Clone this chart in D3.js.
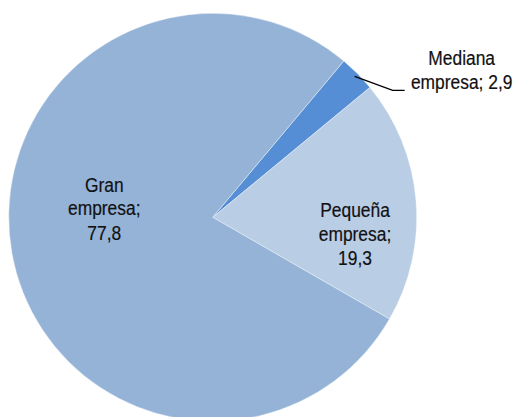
<!DOCTYPE html>
<html><head><meta charset="utf-8">
<script src="https://cdn.jsdelivr.net/npm/d3@7"></script>
<style>html,body{margin:0;padding:0;background:#fff;overflow:hidden}</style>
</head><body>
<svg id="chart" width="516" height="417"></svg>
<script>
// Data
const categories = ["Mediana empresa", "Pequeña empresa", "Gran empresa"];
const values = [2.9, 19.3, 77.8];
const valueLabels = ["2,9", "19,3", "77,8"];
const colors = ["#558ED5", "#B9CDE5", "#95B3D7"];

const svg = d3.select("#chart");
const cx = 212.7, cy = 217.3, R = 204;
const g = svg.append("g").attr("transform", `translate(${cx},${cy})`);

const start = 40 * Math.PI / 180;
const pie = d3.pie().sort(null).value(d => d.v).startAngle(start).endAngle(start + 2 * Math.PI);
const data = categories.map((c, i) => ({c, v: values[i], lab: valueLabels[i], col: colors[i]}));
const arcs = pie(data);
const arc = d3.arc().innerRadius(0).outerRadius(R);

g.selectAll("path.slice").data(arcs).join("path")
  .attr("class", "slice")
  .attr("d", arc)
  .attr("fill", d => d.data.col)
  .attr("stroke", "#ffffff").attr("stroke-opacity", 0.5).attr("stroke-width", 0.8);

const font = "'Liberation Sans', Arial, sans-serif";
const fs = 20, lh = 24, sx = 0.87;

function drawLabel(lines, x, yTopBaseline) {
  const t = svg.append("g").attr("transform", `translate(${x},${yTopBaseline}) scale(${sx},1)`);
  lines.forEach((l, i) => {
    t.append("text").attr("x", 0).attr("y", i * lh)
      .attr("text-anchor", "middle")
      .attr("font-family", font).attr("font-size", fs).attr("fill", "#111")
      .attr("stroke", "#111").attr("stroke-width", 0.2)
      .text(l);
  });
}

// Labels: centroid-based with placement nudges
const labelArc = d3.arc().innerRadius(0).outerRadius(R);
arcs.forEach((a, i) => {
  const words = a.data.c.split(" ");
  if (i === 0) {
    // Mediana: outside label with leader line
    const mid = (a.startAngle + a.endAngle) / 2;
    const p0 = [cx + Math.sin(mid) * (R - 4), cy - Math.cos(mid) * (R - 4)];
    const p1 = [p0[0] + 38, p0[1] + 14];
    const p2 = [p1[0] + 12, p1[1]];
    svg.append("polyline")
      .attr("points", [p0, p1, p2].map(p => p.join(",")).join(" "))
      .attr("fill", "none").attr("stroke", "#000").attr("stroke-width", 1.4);
    drawLabel([words[0], words[1] + "; " + a.data.lab], p2[0] + 57, p1[1] - 25);
  } else if (i === 1) {
    const c = labelArc.centroid(a);
    const k = 1.40;
    drawLabel([words[0], words[1] + ";", a.data.lab], cx + c[0] * k, cy + c[1] * k + 12);
  } else {
    const c = labelArc.centroid(a);
    drawLabel([words[0], words[1] + ";", a.data.lab], cx + c[0] * 1.08, cy + c[1] * 1.08 - 45);
  }
});
</script>
</body></html>
